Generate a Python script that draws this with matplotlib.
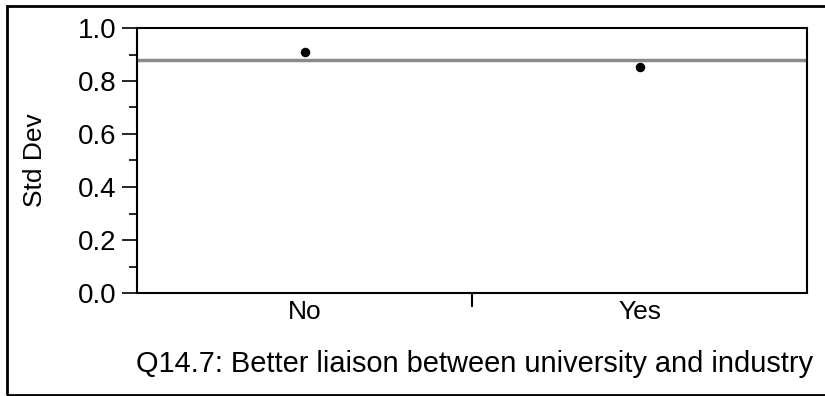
import matplotlib
matplotlib.use("Agg")
import matplotlib.pyplot as plt
from matplotlib.patches import Rectangle
from matplotlib.ticker import MultipleLocator

categories = ["No", "Yes"]
std_dev = [0.909, 0.853]
overall_std = 0.879
y_ticks = [0.0, 0.2, 0.4, 0.6, 0.8, 1.0]
x_label = "Q14.7: Better liaison between university and industry"
y_label = "Std Dev"

plt.rcParams['font.family'] = ['Liberation Sans', 'DejaVu Sans']

fig = plt.figure(figsize=(8.25, 3.96), dpi=100)
ax = fig.add_axes([137/825, 1 - 293/396, (807-137)/825, (293-28)/396])

x = list(range(len(categories)))
ax.axhline(overall_std, color="#8a8a8a", lw=2.5, zorder=1)
ax.scatter(x, std_dev, s=34, color="black", zorder=3)

ax.set_xlim(-0.5, len(categories) - 0.5)
ax.set_ylim(0, 1.0)
ax.set_yticks(y_ticks)
ax.set_yticklabels([f"{v:.1f}" for v in y_ticks])
ax.yaxis.set_minor_locator(MultipleLocator(0.1))
ax.tick_params(axis="y", which="major", length=11, width=1.2, labelsize=20, pad=4, color="black")
ax.tick_params(axis="y", which="minor", length=5.5, width=1.2)

ax.set_xticks(x)
ax.set_xticklabels(categories)
ax.tick_params(axis="x", which="major", length=0, labelsize=19, pad=5)
ax.set_xticks([0.5], minor=True)
ax.tick_params(axis="x", which="minor", length=10, width=1.5, color="black")

for s in ax.spines.values():
    s.set_linewidth(1.5)

ax.set_ylabel(y_label, fontsize=19)
ax.yaxis.set_label_coords((47 - 137) / (807 - 137), 0.5)
ax.set_xlabel(x_label, fontsize=20.9)
ax.xaxis.set_label_coords((475 - 137) / (807 - 137), -(350 - 293) / (293 - 28))

fig.patches.append(Rectangle((7/825, 1/396), 1.0, 1 - 7/396, transform=fig.transFigure,
                             fill=False, edgecolor="black", lw=2))

fig.savefig("out.png", dpi=100)
